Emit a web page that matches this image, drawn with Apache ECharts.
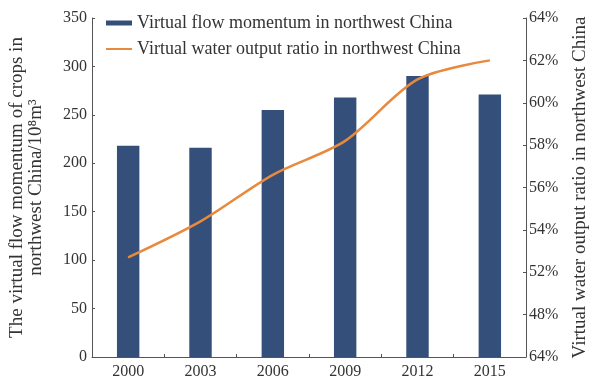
<!DOCTYPE html>
<html>
<head>
<meta charset="utf-8">
<script src="https://cdn.jsdelivr.net/npm/echarts@6/dist/echarts.min.js"></script>
<style>
  html, body { margin: 0; padding: 0; background: #fff; }
  #chart { width: 598px; height: 386px; }
</style>
</head>
<body>
<div id="chart"></div>
<script>
// Years on the horizontal axis
const years = ['2000', '2003', '2006', '2009', '2012', '2015'];
// Virtual water flow of crops, 10^8 m^3 (bars, left axis)
const flowMomentum = [218, 216, 255, 268, 290, 271];
// Virtual water output ratio, percent (line, right axis)
const outputRatio = [52.7, 54.4, 56.6, 58.2, 61.1, 62.0];
// Right-axis tick labels, bottom to top, as printed
const ratioTickLabels = ['64%', '48%', '52%', '54%', '56%', '58%', '60%', '62%', '64%'];

const serif = '"Liberation Serif", "DejaVu Serif", serif';
const axisColor = '#555';
const textColor = '#333';

const chart = echarts.init(document.getElementById('chart'), null, { renderer: 'canvas' });

chart.setOption({
  animation: false,
  backgroundColor: '#fff',
  textStyle: { fontFamily: serif },
  grid: { left: 90, right: 66, top: 18, bottom: 29, containLabel: false },
  legend: {
    orient: 'vertical',
    left: 101,
    top: 9,
    itemWidth: 26,
    itemHeight: 5,
    itemGap: 8,
    textStyle: { fontFamily: serif, fontSize: 18, color: textColor },
    data: [
      { name: 'Virtual flow momentum in northwest China', icon: 'rect' },
      { name: 'Virtual water output ratio in northwest China', icon: 'path://M0,0L26,0L26,2L0,2Z' }
    ]
  },
  xAxis: {
    type: 'category',
    data: years,
    axisLine: { lineStyle: { color: axisColor, width: 1 } },
    axisTick: { show: true, inside: true, length: 3, alignWithLabel: false, lineStyle: { color: axisColor } },
    axisLabel: { fontFamily: serif, fontSize: 16, color: textColor, margin: 7 }
  },
  yAxis: [
    {
      type: 'value',
      min: 0,
      max: 350,
      interval: 50,
      name: 'The virtual flow momentum of crops in\nnorthwest China/10⁸m³',
      nameLocation: 'middle',
      nameGap: 46,
      nameRotate: 90,
      nameTextStyle: { fontFamily: serif, fontSize: 19, color: textColor, lineHeight: 19 },
      axisLine: { show: true, lineStyle: { color: axisColor, width: 1 } },
      axisTick: { show: true, inside: true, length: 3, lineStyle: { color: axisColor } },
      axisLabel: { fontFamily: serif, fontSize: 16, color: textColor, margin: 5 },
      splitLine: { show: false }
    },
    {
      type: 'value',
      min: 48,
      max: 64,
      interval: 2,
      position: 'right',
      name: 'Virtual water output ratio in northwest China',
      nameLocation: 'middle',
      nameGap: 45,
      nameRotate: 90,
      nameTextStyle: { fontFamily: serif, fontSize: 19, color: textColor },
      axisLine: { show: true, lineStyle: { color: axisColor, width: 1 } },
      axisTick: { show: true, inside: true, length: 3, lineStyle: { color: axisColor } },
      axisLabel: {
        fontFamily: serif, fontSize: 16, color: textColor, margin: 3,
        formatter: function (v) {
          const i = Math.round((v - 48) / 2);
          return ratioTickLabels[i] !== undefined ? ratioTickLabels[i] : '';
        }
      },
      splitLine: { show: false }
    }
  ],
  series: [
    {
      name: 'Virtual flow momentum in northwest China',
      type: 'bar',
      yAxisIndex: 0,
      data: flowMomentum,
      barWidth: '31%',
      itemStyle: { color: '#34507a' }
    },
    {
      name: 'Virtual water output ratio in northwest China',
      type: 'line',
      yAxisIndex: 1,
      data: outputRatio,
      smooth: 0.3,
      symbol: 'none',
      lineStyle: { color: '#e8893d', width: 2.5 },
      itemStyle: { color: '#e8893d' }
    }
  ]
});
</script>
</body>
</html>
